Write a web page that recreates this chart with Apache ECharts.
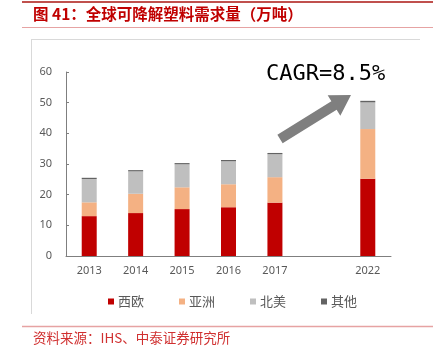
<!DOCTYPE html>
<html>
<head>
<meta charset="utf-8">
<script src="https://cdn.jsdelivr.net/npm/echarts@6/dist/echarts.min.js"></script>
<style>
  html, body { margin: 0; padding: 0; background: #fff; }
  #main { width: 438px; height: 353px; }
</style>
</head>
<body>
<div id="main"></div>
<script>
// 数据
const years = ['2013', '2014', '2015', '2016', '2017', '', '2022']
const xiOu = [13.0, 14.0, 15.3, 15.9, 17.4, '-', 25.2]
const yaZhou = [4.5, 6.3, 7.1, 7.5, 8.3, '-', 16.2]
const beiMei = [7.6, 7.3, 7.5, 7.5, 7.5, '-', 8.7]
const qiTa = [0.4, 0.4, 0.4, 0.4, 0.4, '-', 0.5]
const yTicks = [0, 10, 20, 30, 40, 50, 60]

const red = '#C00000'
const chart = echarts.init(document.getElementById('main'))

// 箭头（装饰）
function arrowPoints (x1, y1, x2, y2, shaft, head, headLen) {
  const dx = x2 - x1
  const dy = y2 - y1
  const len = Math.sqrt(dx * dx + dy * dy)
  const ux = dx / len
  const uy = dy / len
  const nx = -uy
  const ny = ux
  const bx = x2 - ux * headLen
  const by = y2 - uy * headLen
  return [
    [x1 + nx * shaft / 2, y1 + ny * shaft / 2],
    [bx + nx * shaft / 2, by + ny * shaft / 2],
    [bx + nx * head / 2, by + ny * head / 2],
    [x2, y2],
    [bx - nx * head / 2, by - ny * head / 2],
    [bx - nx * shaft / 2, by - ny * shaft / 2],
    [x1 - nx * shaft / 2, y1 - ny * shaft / 2]
  ]
}

const axisText = { color: '#595959', fontSize: 11, fontFamily: 'Noto Sans' }

const option = {
  animation: false,
  backgroundColor: '#fff',
  grid: { left: 66, right: 47, top: 72, bottom: 97 },
  legend: {
    left: 103,
    top: 290,
    itemWidth: 6,
    itemHeight: 6,
    itemGap: 35,
    icon: 'rect',
    textStyle: { color: '#595959', fontSize: 13, fontFamily: 'Noto Sans CJK SC', padding: [0, 0, 0, -1] },
    data: ['西欧', '亚洲', '北美', '其他']
  },
  xAxis: {
    type: 'category',
    data: years,
    axisLine: { lineStyle: { color: '#7F7F7F', width: 1 } },
    axisTick: { inside: true, length: 4, lineStyle: { color: '#7F7F7F' } },
    axisLabel: Object.assign({ margin: 9 }, axisText)
  },
  yAxis: {
    type: 'value',
    min: 0,
    max: 60,
    interval: 10,
    splitLine: { show: false },
    axisLine: { show: true, lineStyle: { color: '#7F7F7F', width: 1 } },
    axisTick: { show: true, inside: true, length: 3, lineStyle: { color: '#7F7F7F' } },
    axisLabel: Object.assign({ margin: 14, formatter: v => yTicks.includes(v) ? String(v) : '' }, axisText)
  },
  series: [
    { name: '西欧', type: 'bar', stack: 'a', barWidth: 15, data: xiOu, itemStyle: { color: red } },
    { name: '亚洲', type: 'bar', stack: 'a', barWidth: 15, data: yaZhou, itemStyle: { color: '#F4B183' } },
    { name: '北美', type: 'bar', stack: 'a', barWidth: 15, data: beiMei, itemStyle: { color: '#BFBFBF' } },
    { name: '其他', type: 'bar', stack: 'a', barWidth: 15, data: qiTa, itemStyle: { color: '#636363' } }
  ],
  graphic: [
    // 顶部红线
    { type: 'line', shape: { x1: 22, y1: 2, x2: 433, y2: 2 }, style: { stroke: '#C0504D', lineWidth: 2 } },
    { type: 'text', left: 33, top: 6, style: { text: '图 41：全球可降解塑料需求量（万吨）', fill: red, font: 'bold 15.5px "Noto Sans CJK SC"' } },
    { type: 'line', shape: { x1: 22, y1: 27.5, x2: 433, y2: 27.5 }, style: { stroke: '#E6A3A3', lineWidth: 1 } },
    // 图框
    { type: 'line', shape: { x1: 31, y1: 39.5, x2: 420, y2: 39.5 }, style: { stroke: '#D9D9D9', lineWidth: 1 } },
    { type: 'line', shape: { x1: 31.5, y1: 39, x2: 31.5, y2: 314 }, style: { stroke: '#D9D9D9', lineWidth: 1 } },
    // CAGR
    { type: 'polygon', shape: { points: arrowPoints(280, 139, 351, 95, 10, 24, 20) }, style: { fill: '#7F7F7F' } },
    { type: 'text', left: 266, top: 63, style: { text: 'CAGR=8.5%', fill: '#000', font: '22px "DejaVu Sans Mono"' } },
    // 资料来源
    { type: 'line', shape: { x1: 22, y1: 326.5, x2: 433, y2: 326.5 }, style: { stroke: '#E6A3A3', lineWidth: 1.5 } },
    { type: 'text', left: 33, top: 331, style: { text: '资料来源：IHS、中泰证券研究所', fill: '#D03030', font: '13.5px "Noto Sans CJK SC"' } }
  ]
}

chart.setOption(option)
</script>
</body>
</html>
